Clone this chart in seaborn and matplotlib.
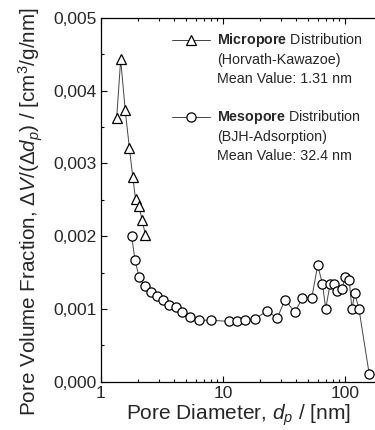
import numpy as np
import pandas as pd
import matplotlib
matplotlib.use("Agg")
import matplotlib.pyplot as plt
import seaborn as sns
from matplotlib.ticker import FixedLocator, FixedFormatter, LogLocator, NullFormatter

# ---- data ----
micro_d = [1.345, 1.45, 1.58, 1.71, 1.82, 1.92, 2.05, 2.17, 2.31]
micro_v = [0.00363, 0.00443, 0.00373, 0.00321, 0.00282, 0.00251, 0.00241, 0.00223, 0.00202]

meso_d = [1.785, 1.90, 2.05, 2.28, 2.58, 2.89, 3.24, 3.63, 4.09, 4.64, 5.36, 6.32, 7.93,
          11.1, 12.9, 15.2, 18.4, 22.8, 27.9, 32.2, 38.7, 44.7, 53.3, 59.7, 65.2, 69.5,
          75.4, 81.3, 86.5, 94.5, 100, 108, 114, 120, 130, 158]
meso_v = [0.00200, 0.00167, 0.00144, 0.00131, 0.00123, 0.001185, 0.00113, 0.00105, 0.00103,
          0.00096, 0.000895, 0.000845, 0.000845, 0.00083, 0.00083, 0.00085, 0.000867, 0.00097,
          0.000877, 0.00113, 0.000955, 0.00115, 0.00115, 0.00160, 0.00135, 0.001005, 0.00134,
          0.00134, 0.001245, 0.00127, 0.00144, 0.00140, 0.00100, 0.00122, 0.00100, 0.00010]

x_ticks = [1, 10, 100]
x_tick_labels = ["1", "10", "100"]
y_ticks = [0.000, 0.001, 0.002, 0.003, 0.004, 0.005]
y_tick_labels = ["0,000", "0,001", "0,002", "0,003", "0,004", "0,005"]

legend_lines = [
    [r"$\bf{Micropore}$ Distribution", "(Horvath-Kawazoe)", "Mean Value: 1.31 nm"],
    [r"$\bf{Mesopore}$ Distribution", "(BJH-Adsorption)", "Mean Value: 32.4 nm"],
]

sns.set_style("ticks")
plt.rcParams["font.family"] = ["Liberation Sans", "DejaVu Sans"]
plt.rcParams["mathtext.fontset"] = "custom"
plt.rcParams["mathtext.rm"] = "Liberation Sans"
plt.rcParams["mathtext.it"] = "Liberation Sans:italic"
plt.rcParams["mathtext.bf"] = "Liberation Sans:bold"

fig = plt.figure(figsize=(3.75, 4.30), dpi=100)
ax = fig.add_axes([0.2693, 0.1123, 0.7307, 0.8458])

micro = pd.DataFrame({"d": micro_d, "v": micro_v})
meso = pd.DataFrame({"d": meso_d, "v": meso_v})

line_kw = dict(color="#444444", linewidth=0.7, estimator=None, sort=False,
               markerfacecolor="white", markeredgecolor="black", markeredgewidth=0.9,
               ax=ax, legend=False)
sns.lineplot(data=meso, x="d", y="v", marker="o", markersize=6.6, **line_kw)
sns.lineplot(data=micro, x="d", y="v", marker="^", markersize=7.6, **line_kw)

ax.set_xscale("log")
ax.set_xlim(1, 176)
ax.set_ylim(0, 0.005)

ax.xaxis.set_major_locator(FixedLocator(x_ticks))
ax.xaxis.set_major_formatter(FixedFormatter(x_tick_labels))
ax.xaxis.set_minor_locator(LogLocator(base=10, subs=np.arange(2, 10)))
ax.xaxis.set_minor_formatter(NullFormatter())
ax.yaxis.set_major_locator(FixedLocator(y_ticks))
ax.yaxis.set_major_formatter(FixedFormatter(y_tick_labels))
ax.yaxis.set_minor_locator(FixedLocator([0.0005, 0.0015, 0.0025, 0.0035, 0.0045]))

ax.tick_params(which="both", direction="in", top=True, right=False, color="black",
               labelsize=12.5, width=0.8)
ax.tick_params(which="major", length=4.5, pad=3)
ax.tick_params(which="minor", length=2.5)
for s in ["left", "bottom", "top"]:
    ax.spines[s].set_color("black")
    ax.spines[s].set_linewidth(0.9)
ax.spines["right"].set_visible(False)

ax.set_xlabel(r"Pore Diameter, $d_p$ / [nm]", fontsize=15, labelpad=1)
ax.set_ylabel(r"Pore Volume Fraction, Δ$V$/(Δ$d_p$) / [cm$^3$/g/nm]", fontsize=14.9)
ax.yaxis.set_label_coords(-0.203, 0.4666)

# legend drawn as annotation artwork
leg_y = [(0.9395, 0.8845, 0.8323), (0.7278, 0.6728, 0.6206)]
leg_marker = ["^", "o"]
leg_ms = [7.6, 6.6]
for i in range(2):
    y0 = leg_y[i][0]
    ax.plot([0.259, 0.398], [y0, y0], transform=ax.transAxes, color="#444444", lw=0.7,
            clip_on=False)
    ax.plot([0.328], [y0], transform=ax.transAxes, marker=leg_marker[i], ms=leg_ms[i],
            mfc="white", mec="black", mew=0.9, clip_on=False)
    for j, t in enumerate(legend_lines[i]):
        ax.text(0.423, leg_y[i][j], t, transform=ax.transAxes, fontsize=10.3,
                va="center", ha="left")

fig.savefig("out.png", dpi=100)
